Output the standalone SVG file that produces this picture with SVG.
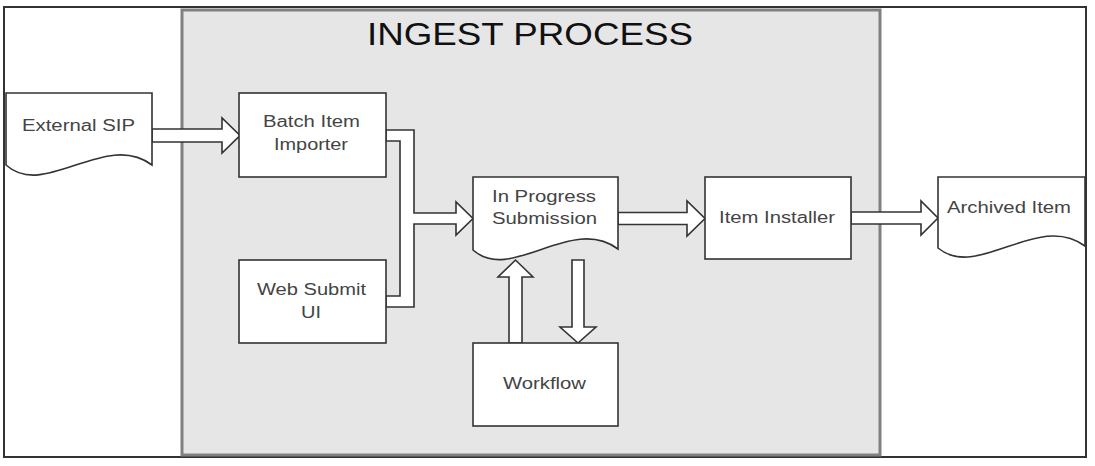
<svg xmlns="http://www.w3.org/2000/svg" width="1095" height="466" viewBox="0 0 1095 466">
<style>
.box{fill:#fff;stroke:#333;stroke-width:1.6}
.arr{fill:#fff;stroke:#333;stroke-width:1.6;stroke-linejoin:miter}
.t{font-family:"Liberation Sans",Arial,sans-serif;font-size:16px;fill:#444;text-anchor:start}
.title{font-family:"Liberation Sans",Arial,sans-serif;font-size:32px;fill:#111}
</style>
<rect x="0" y="0" width="1095" height="466" fill="#fff"/>
<rect id="frame" x="4" y="7" width="1082" height="450" fill="#fff" stroke="#333" stroke-width="2"/>
<g id="ingest-process">
<rect x="182" y="10" width="698" height="445" fill="#e6e6e6" stroke="#808080" stroke-width="3"/>
<text class="title" x="367" y="45" textLength="326" lengthAdjust="spacingAndGlyphs">INGEST PROCESS</text>
</g>
<g id="connectors">
<polygon class="arr" points="152,129 222,129 222,118 240,135.5 222,153 222,142 152,142"/>
<polygon class="arr" points="386,130 414,130 414,213 456,213 456,202 473,218.5 456,235 456,224 414,224 414,307 386,307 386,296 400,296 400,141 386,141"/>
<polygon class="arr" points="618,212.5 687,212.5 687,201 705,218.5 687,236 687,224.5 618,224.5"/>
<polygon class="arr" points="851,212 921,212 921,201 938,218 921,235 921,224 851,224"/>
<polygon class="arr" points="509,343 509,277 498,277 515.5,260 533,277 522,277 522,343"/>
<polygon class="arr" points="572,260 584,260 584,327 596,327 578,343 560,327 572,327"/>
</g>
<g id="external-sip">
<path class="box" d="M6,93 H152 V165 C105,130 45,200 6,165 Z"/>
<text class="t" x="22" y="131" textLength="113" lengthAdjust="spacingAndGlyphs">External SIP</text>
</g>
<g id="batch-item-importer">
<rect class="box" x="239" y="93" width="147" height="84"/>
<text class="t" x="263" y="127" textLength="97" lengthAdjust="spacingAndGlyphs">Batch Item</text>
<text class="t" x="274" y="150" textLength="74" lengthAdjust="spacingAndGlyphs">Importer</text>
</g>
<g id="web-submit-ui">
<rect class="box" x="239" y="260" width="147" height="83"/>
<text class="t" x="257" y="295" textLength="109" lengthAdjust="spacingAndGlyphs">Web Submit</text>
<text class="t" x="301" y="318" textLength="20" lengthAdjust="spacingAndGlyphs">UI</text>
</g>
<g id="in-progress-submission">
<path class="box" d="M473,177 H618 V249 C571,214 511,284 473,250 Z"/>
<text class="t" x="492" y="202" textLength="104" lengthAdjust="spacingAndGlyphs">In Progress</text>
<text class="t" x="492" y="224" textLength="105" lengthAdjust="spacingAndGlyphs">Submission</text>
</g>
<g id="item-installer">
<rect class="box" x="705" y="177" width="146" height="82"/>
<text class="t" x="719" y="223" textLength="116" lengthAdjust="spacingAndGlyphs">Item Installer</text>
</g>
<g id="archived-item">
<path class="box" d="M938,177 H1085 V246 C1038,211 978,281 938,248 Z"/>
<text class="t" x="947" y="213" textLength="124" lengthAdjust="spacingAndGlyphs">Archived Item</text>
</g>
<g id="workflow">
<rect class="box" x="473" y="343" width="145" height="83"/>
<text class="t" x="503" y="389" textLength="83" lengthAdjust="spacingAndGlyphs">Workflow</text>
</g>
</svg>
